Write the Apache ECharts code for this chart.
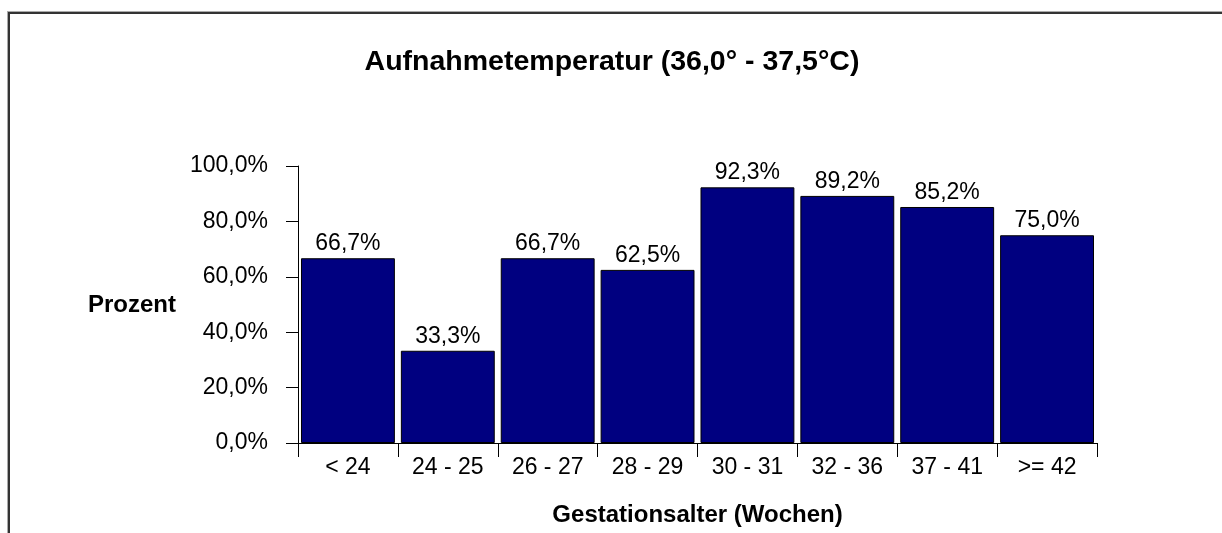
<!DOCTYPE html>
<html>
<head>
<meta charset="utf-8">
<script src="https://cdn.jsdelivr.net/npm/echarts@6/dist/echarts.min.js"></script>
<style>
  html, body { margin: 0; padding: 0; background: #fff; }
  #chart { width: 1222px; height: 533px; }
  .frame {
    position: absolute; left: 8px; top: 12px; width: 1300px; height: 600px;
    border-left: 2px solid #333; border-top: 2px solid #333;
    box-shadow: -1px -1px 0 #aaa;
    pointer-events: none;
  }
</style>
</head>
<body>
<div id="chart"></div>
<div class="frame"></div>
<script>
const categories = ['< 24', '24 - 25', '26 - 27', '28 - 29', '30 - 31', '32 - 36', '37 - 41', '>= 42']
const values = [66.7, 33.3, 66.7, 62.5, 92.3, 89.2, 85.2, 75.0]
const yTicks = [0, 20, 40, 60, 80, 100]

const font = 'Liberation Sans, Arial, sans-serif'
const pct = v => v.toFixed(1).replace('.', ',') + '%'

const chart = echarts.init(document.getElementById('chart'))
chart.setOption({
  animation: false,
  title: {
    text: 'Aufnahmetemperatur (36,0° - 37,5°C)',
    left: 607,
    top: 43,
    textAlign: 'center',
    textStyle: { fontFamily: font, fontSize: 28.5, fontWeight: 'bold', color: '#000' }
  },
  graphic: [{
    type: 'text',
    x: 132,
    y: 305,
    style: {
      text: 'Prozent',
      font: 'bold 24px ' + font,
      fill: '#000',
      align: 'center',
      verticalAlign: 'middle'
    }
  }],
  grid: { left: 298, right: 125, top: 166, bottom: 90, containLabel: false },
  xAxis: {
    type: 'category',
    data: categories,
    name: 'Gestationsalter (Wochen)',
    nameLocation: 'middle',
    nameGap: 60,
    nameTextStyle: { fontFamily: font, fontSize: 24, fontWeight: 'bold', color: '#000' },
    axisLine: { lineStyle: { color: '#000', width: 1 } },
    axisTick: { show: true, interval: 0, length: 14, lineStyle: { color: '#000' } },
    axisLabel: { interval: 0, margin: 13, fontFamily: font, fontSize: 23, color: '#000' }
  },
  yAxis: {
    type: 'value',
    min: yTicks[0],
    max: yTicks[yTicks.length - 1],
    interval: 20,
    axisLine: { show: true, lineStyle: { color: '#000', width: 1 } },
    axisTick: { show: true, length: 12, lineStyle: { color: '#000' } },
    splitLine: { show: false },
    axisLabel: { margin: 30, fontFamily: font, fontSize: 23, color: '#000', formatter: pct }
  },
  series: [{
    type: 'bar',
    data: values,
    barCategoryGap: '6%',
    itemStyle: { color: '#000080', borderColor: '#000', borderWidth: 1 },
    label: {
      show: true,
      position: 'top',
      distance: 3,
      fontFamily: font,
      fontSize: 23,
      color: '#000',
      formatter: p => pct(p.value)
    }
  }]
})
</script>
</body>
</html>
